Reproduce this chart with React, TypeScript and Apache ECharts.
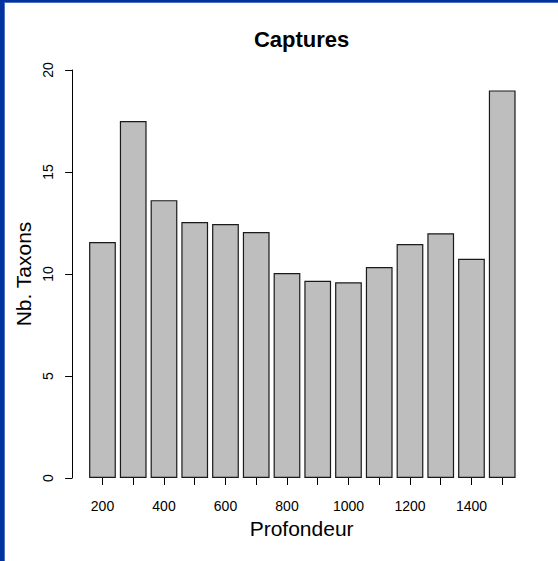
import React, { useEffect, useRef } from "react";
import * as echarts from "echarts";

const depths: string[] = ["200", "300", "400", "500", "600", "700", "800", "900", "1000", "1100", "1200", "1300", "1400", "1500"];
const taxa: number[] = [11.57, 17.5, 13.62, 12.55, 12.45, 12.06, 10.05, 9.67, 9.59, 10.34, 11.47, 12.0, 10.75, 19.0];
const yTicks: number[] = [0, 5, 10, 15, 20];

const FONT = "'Liberation Sans', Arial, Helvetica, sans-serif";

export default function App() {
  const ref = useRef<HTMLDivElement>(null);
  useEffect(() => {
    document.body.style.margin = "0";
    const chart = echarts.init(ref.current!, null, { renderer: "svg" });
    chart.setOption({
      animation: false,
      backgroundColor: "#ffffff",
      grid: { left: 87.1, right: 40.4, top: 70, bottom: 83, containLabel: false },
      xAxis: {
        type: "category",
        data: depths,
        offset: 1.5,
        axisLine: { show: false },
        axisTick: { show: true, alignWithLabel: true, interval: 0, length: 7, lineStyle: { color: "#000", width: 1 } },
        axisLabel: { interval: 1, margin: 19, color: "#000", fontSize: 14, fontFamily: FONT, lineHeight: 14 },
        splitLine: { show: false },
      },
      yAxis: {
        type: "value",
        min: yTicks[0],
        max: yTicks[yTicks.length - 1],
        interval: 5,
        offset: 15,
        axisLine: { show: true, lineStyle: { color: "#000", width: 1 } },
        axisTick: { show: true, length: 7, lineStyle: { color: "#000", width: 1 } },
        axisLabel: { rotate: 90, margin: 17, color: "#000", fontSize: 14, fontFamily: FONT },
        splitLine: { show: false },
      },
      series: [
        {
          type: "bar",
          data: taxa,
          barCategoryGap: "13%",
          itemStyle: { color: "#bebebe", borderColor: "#1a1a1a", borderWidth: 1.2 },
        },
      ],
      graphic: [
        { type: "rect", shape: { x: 0, y: 0, width: 4, height: 561 }, style: { fill: "#0033a0" }, z: 100 },
        { type: "rect", shape: { x: 4, y: 2, width: 1, height: 559 }, style: { fill: "#4d6fc0" }, z: 100 },
        { type: "rect", shape: { x: 0, y: 0, width: 558, height: 2 }, style: { fill: "#0033a0" }, z: 100 },
        { type: "rect", shape: { x: 4, y: 2, width: 554, height: 1 }, style: { fill: "#4d6fc0" }, z: 100 },
        {
          type: "text",
          x: 301.6,
          y: 39,
          style: { text: "Captures", fill: "#000", font: `bold 22px ${FONT}`, textAlign: "center", textVerticalAlign: "middle" },
        },
        {
          type: "text",
          x: 301.6,
          y: 528,
          style: { text: "Profondeur", fill: "#000", font: `21px ${FONT}`, textAlign: "center", textVerticalAlign: "middle" },
        },
        {
          type: "text",
          x: 23.5,
          y: 274,
          rotation: Math.PI / 2,
          style: { text: "Nb. Taxons", fill: "#000", font: `21px ${FONT}`, textAlign: "center", textVerticalAlign: "middle" },
        },
      ],
    });
    return () => chart.dispose();
  }, []);
  return <div ref={ref} style={{ position: "fixed", left: 0, top: 0, width: 558, height: 561 }} />;
}
